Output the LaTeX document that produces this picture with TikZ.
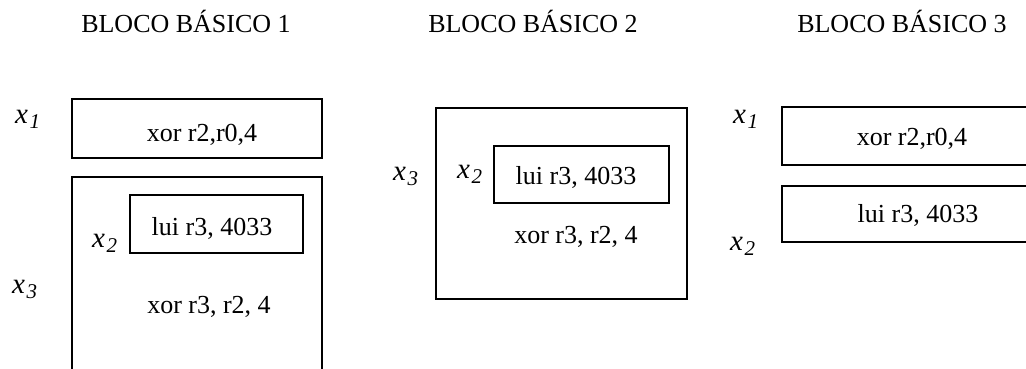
\documentclass[tikz,border=0pt]{standalone}
\usepackage{fontspec}
\setmainfont{Liberation Serif}
% italic variable with a lowered italic index
\newcommand\xvar[1]{{\fontsize{29}{30}\selectfont\textit{x}}\kern1.5pt\raisebox{-5pt}{\fontsize{21}{21}\selectfont\textit{#1}}}
\begin{document}
\begin{tikzpicture}[x=1pt,y=-1pt,
  blk/.style={draw,line width=1.3pt,inner sep=0pt},
  txt/.style={inner sep=0pt,anchor=base,font=\fontsize{26}{30}\selectfont},
  lbl/.style={inner sep=0pt,anchor=base west,font=\fontsize{26}{30}\selectfont},
  ttl/.style={inner sep=0pt,anchor=base,font=\fontsize{26}{30}\selectfont}]
\useasboundingbox (0,0) rectangle (1026,368);
\clip (0,0) rectangle (1026,368);

% titles
\node[ttl] (t1) at (186,32) {BLOCO BÁSICO 1};
\node[ttl] (t2) at (533,32) {BLOCO BÁSICO 2};
\node[ttl] (t3) at (902,32) {BLOCO BÁSICO 3};

% block 1
\node[blk,minimum width=250pt,minimum height=59pt] (b1a) at (197,128.5) {};
\node[blk,minimum width=250pt,minimum height=240pt] (b1b) at (197,297) {};
\node[blk,minimum width=173pt,minimum height=58pt] (b1c) at (216.5,224) {};
\node[txt] (s1a) at (202,141) {xor r2,r0,4};
\node[txt] (s1c) at (212,235) {lui r3, 4033};
\node[txt] (s1b) at (209,313) {xor r3, r2, 4};
\node[lbl] (l11) at (15,123) {\xvar{1}};
\node[lbl] (l12) at (92,247) {\xvar{2}};
\node[lbl] (l13) at (12,293) {\xvar{3}};

% block 2
\node[blk,minimum width=251pt,minimum height=191pt] (b2a) at (561.5,203.5) {};
\node[blk,minimum width=175pt,minimum height=57pt] (b2b) at (581.5,174.5) {};
\node[txt] (s2b) at (576,184) {lui r3, 4033};
\node[txt] (s2a) at (576,243) {xor r3, r2, 4};
\node[lbl] (l22) at (457,178) {\xvar{2}};
\node[lbl] (l23) at (393,180) {\xvar{3}};

% block 3
\node[blk,minimum width=260pt,minimum height=58pt] (b3a) at (912,136) {};
\node[blk,minimum width=260pt,minimum height=56pt] (b3b) at (912,214) {};
\node[txt] (s3a) at (912,145) {xor r2,r0,4};
\node[txt] (s3b) at (918,222) {lui r3, 4033};
\node[lbl] (l31) at (733,123) {\xvar{1}};
\node[lbl] (l32) at (730,250) {\xvar{2}};
\end{tikzpicture}
\end{document}
